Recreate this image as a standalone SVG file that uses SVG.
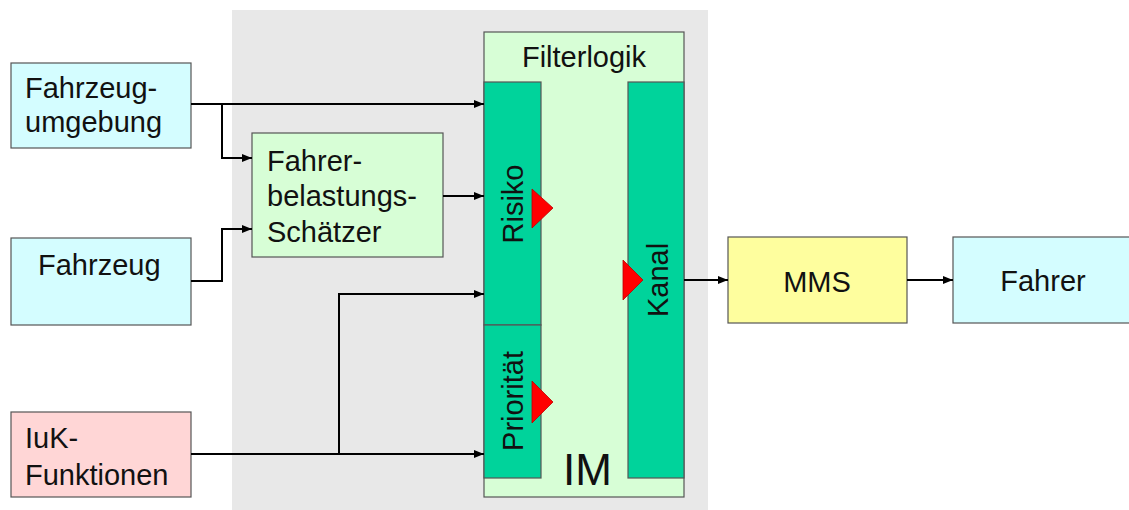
<svg xmlns="http://www.w3.org/2000/svg" width="1129" height="510" viewBox="0 0 1129 510">
<defs>
<style>
.t{font-family:"Liberation Sans",Arial,sans-serif;font-size:29px;fill:#111}
.box{stroke:#555;stroke-width:1.2}
.cy{fill:#d4fdff}
.gr{fill:#d7fed6}
.tl{fill:#00d39b}
.ye{fill:#fefe9e}
.pk{fill:#ffd6d6}
.ln{fill:none;stroke:#000;stroke-width:2}
.tri{fill:#ff0000;stroke:#b00;stroke-width:0.8}
</style>
<marker id="ah" viewBox="0 0 10 10" refX="10" refY="5" markerWidth="10" markerHeight="10" markerUnits="userSpaceOnUse" orient="auto">
<path d="M0,1 L10,5 L0,9 z" fill="#000"/>
</marker>
</defs>
<rect id="bg" x="232" y="10" width="476" height="500" fill="#e8e8e8"/>
<g id="im">
<rect class="box gr" x="484" y="32" width="200" height="465"/>
<text class="t" x="584" y="67" text-anchor="middle">Filterlogik</text>
<rect class="box tl" x="484" y="82" width="57" height="243"/>
<rect class="box tl" x="484" y="325" width="57" height="153"/>
<rect class="box tl" x="628" y="82" width="56" height="396"/>
<text class="t" transform="translate(523,204) rotate(-90)" text-anchor="middle">Risiko</text>
<text class="t" transform="translate(523,401) rotate(-90)" text-anchor="middle">Priorität</text>
<text class="t" transform="translate(668,280) rotate(-90)" text-anchor="middle">Kanal</text>
<polygon class="tri" points="532,189 553,208 532,228"/>
<polygon class="tri" points="532,381 553,402 532,423"/>
<polygon class="tri" points="623,260 643,280 623,300"/>
<text class="t" x="563" y="485" style="font-size:44px">IM</text>
</g>
<g id="fahrzeugumgebung">
<rect class="box cy" x="11" y="63" width="180" height="85"/>
<text class="t" x="25" y="98">Fahrzeug-</text>
<text class="t" x="25" y="132">umgebung</text>
</g>
<g id="fahrzeug">
<rect class="box cy" x="11" y="238" width="180" height="87"/>
<text class="t" x="38" y="275">Fahrzeug</text>
</g>
<g id="iuk">
<rect class="box pk" x="11" y="412" width="180" height="85"/>
<text class="t" x="25" y="448">IuK-</text>
<text class="t" x="25" y="485">Funktionen</text>
</g>
<g id="schaetzer">
<rect class="box gr" x="252" y="133" width="191" height="124"/>
<text class="t" x="267" y="171">Fahrer-</text>
<text class="t" x="267" y="206">belastungs-</text>
<text class="t" x="267" y="242">Schätzer</text>
</g>
<g id="mms">
<rect class="box ye" x="728" y="237" width="179" height="86"/>
<text class="t" x="817" y="292" text-anchor="middle">MMS</text>
</g>
<g id="fahrer">
<rect class="box cy" x="953" y="237" width="180" height="86"/>
<text class="t" x="1043" y="291" text-anchor="middle">Fahrer</text>
</g>
<g id="connectors">
<path class="ln" d="M191,104 H484" marker-end="url(#ah)"/>
<path class="ln" d="M222,104 V158 H252" marker-end="url(#ah)"/>
<path class="ln" d="M191,281 H222 V229 H252" marker-end="url(#ah)"/>
<path class="ln" d="M443,196 H484" marker-end="url(#ah)"/>
<path class="ln" d="M191,454 H484" marker-end="url(#ah)"/>
<path class="ln" d="M339,454 V294 H484" marker-end="url(#ah)"/>
<path class="ln" d="M684,280 H728" marker-end="url(#ah)"/>
<path class="ln" d="M907,280 H953" marker-end="url(#ah)"/>
</g>
</svg>
